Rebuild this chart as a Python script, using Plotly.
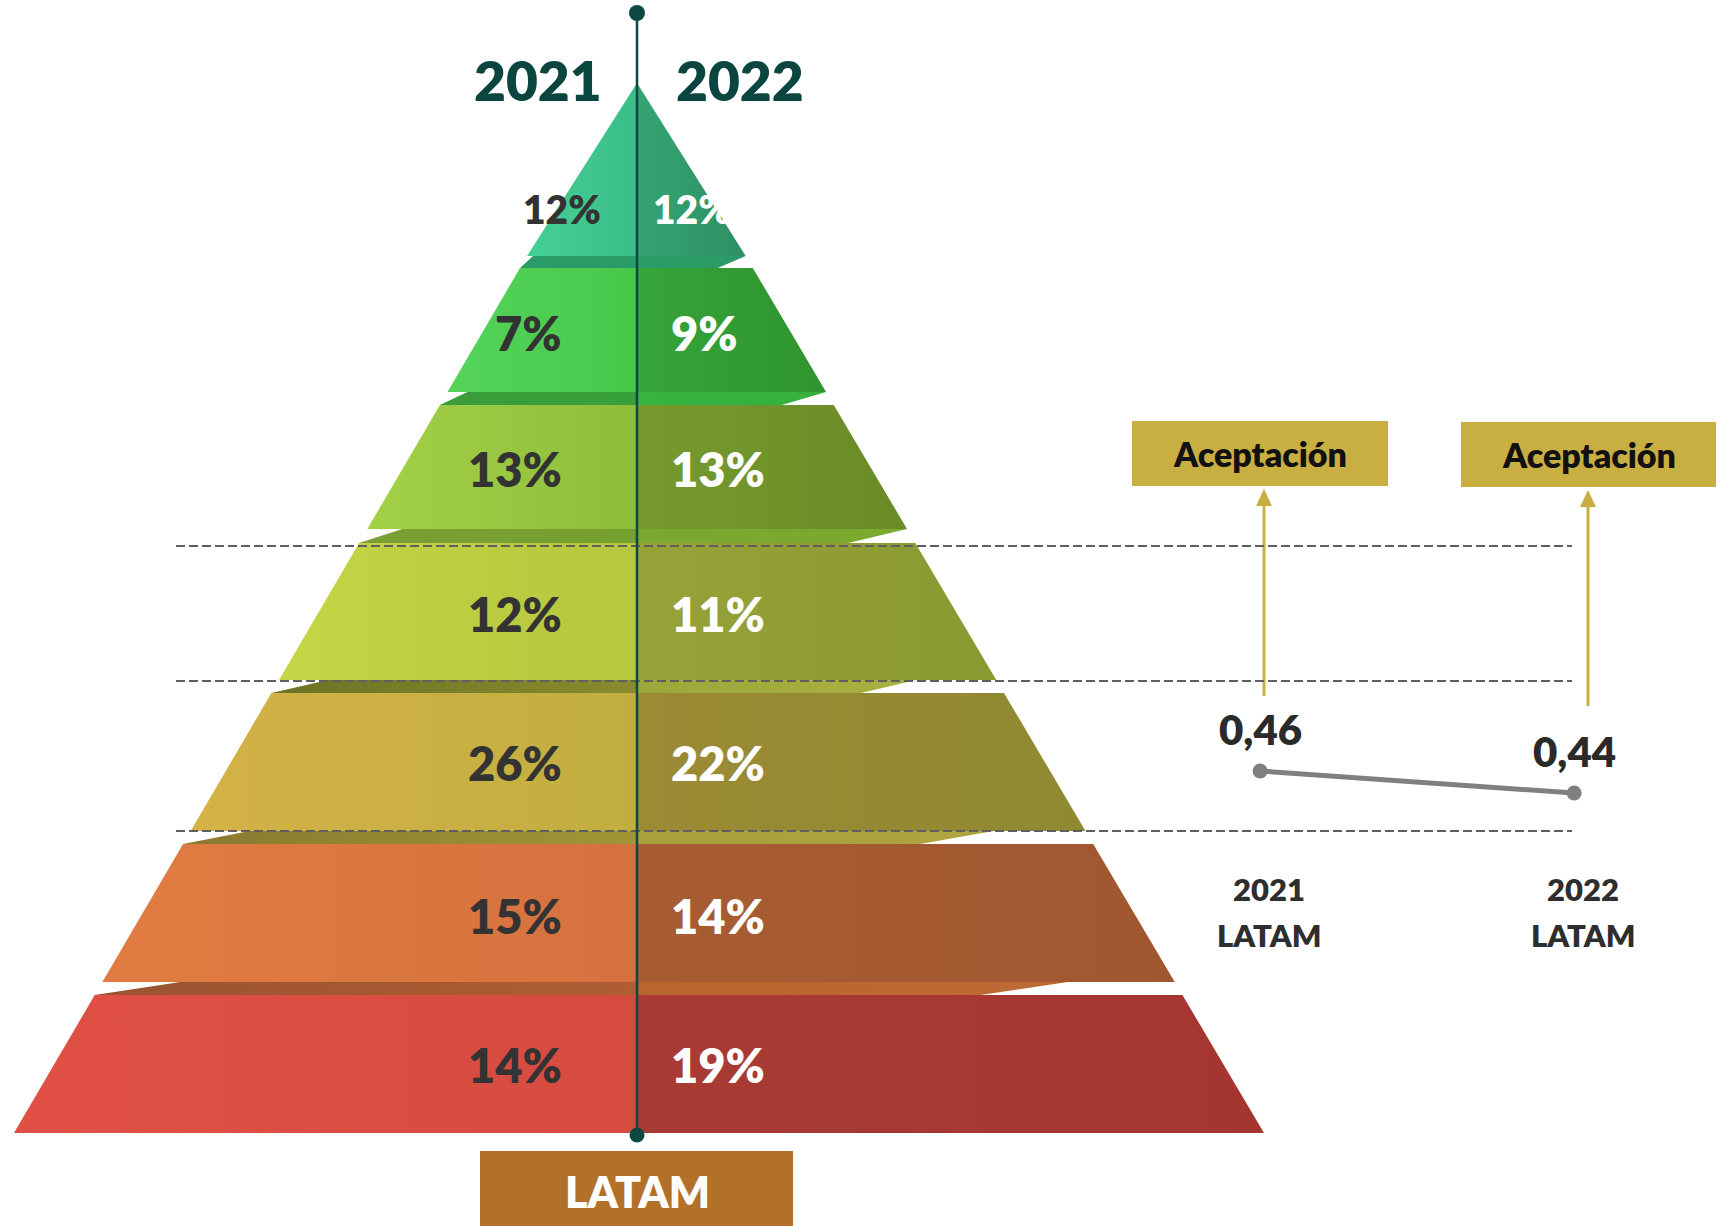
import plotly.graph_objects as go

# ---------------------------------------------------------------------------
# Data
# ---------------------------------------------------------------------------
# Share of respondents in each pyramid level, top level first
levels_2021 = [12, 7, 13, 12, 26, 15, 14]
levels_2022 = [12, 9, 13, 11, 22, 14, 19]
header_years = ["2021", "2022"]

# Acceptance index for LATAM
accept_categories = ["2021<br>LATAM", "2022<br>LATAM"]
accept_values = [0.46, 0.44]
accept_title = "Aceptación"
region_label = "LATAM"


def pct(v):
    return f"{v}%"


def dec_comma(v):
    return f"{v:.2f}".replace(".", ",")


# ---------------------------------------------------------------------------
# Canvas / geometry (pixel-like coordinates, y grows downwards)
# ---------------------------------------------------------------------------
W, H = 1728, 1226
CX = 637
FONT = "Lato"
HEAVY = 800

BAND_Y = [(83, 256), (268, 392), (405, 529), (543, 680),
          (693, 831), (844, 982), (995, 1133)]
BASE_Y, BASE_L, BASE_R = 1133, 14, 1264
SLOPE_L, SLOPE_R = 0.585, 0.591


def xl(y):
    return BASE_L + SLOPE_L * (BASE_Y - y)


def xr(y):
    return BASE_R - SLOPE_R * (BASE_Y - y)


# (left-half start, left-half end, right-half start, right-half end)
BAND_COLORS = [
    ("#44d096", "#3bbd87", "#34a472", "#2e9064"),
    ("#55d35a", "#47c84b", "#37a43a", "#2e942f"),
    ("#a2d146", "#8fbd3c", "#779a2e", "#698b28"),
    ("#c4d545", "#b6c63e", "#97a338", "#8a9832"),
    ("#d4b246", "#c2ae40", "#9c8a35", "#8f8a32"),
    ("#e17d42", "#d4713e", "#a85c32", "#a0572f"),
    ("#e05044", "#d64b40", "#a93b34", "#a43531"),
]
# darker under-face of each band
LEDGE_COLORS = [
    ("#2a9a66", "#2a9a66", "#2b9c68", "#2b9c68"),
    ("#3a9c3a", "#38a03a", "#3ab440", "#36b03c"),
    ("#7a9e32", "#76a030", "#7aa82e", "#7aaa2e"),
    ("#6b7425", "#8a8a2e", "#9da83a", "#a8b040"),
    ("#8a7a30", "#a09535", "#a8a03a", "#b0a440"),
    ("#9a5230", "#ae5e32", "#b8652f", "#bd6a35"),
]
LEDGE_IN_L = [6, 20, 35, 49, 59, 78]
LEDGE_IN_RT = [0, 0, 0, 80, 92, 107]
LEDGE_IN_RB = [35, 52, 67, 143, 173, 202]


def poly(xs, ys, c0, c1):
    return go.Scatter(
        x=xs + [xs[0]], y=ys + [ys[0]], mode="lines", fill="toself",
        line=dict(width=0, color="rgba(0,0,0,0)"),
        fillgradient=dict(type="horizontal", colorscale=[[0, c0], [1, c1]]),
        hoverinfo="skip", showlegend=False, xaxis="x", yaxis="y",
    )


fig = go.Figure()

# Pyramid bands, split into the 2021 (left) and 2022 (right) halves
for i, (top, bot) in enumerate(BAND_Y):
    la, lb, ra, rb = BAND_COLORS[i]
    if i == 0:
        fig.add_trace(poly([CX, xl(bot), CX], [top, bot, bot], la, lb))
        fig.add_trace(poly([CX, CX, xr(bot)], [top, bot, bot], ra, rb))
    else:
        fig.add_trace(poly([xl(top), CX, CX, xl(bot)], [top, top, bot, bot], la, lb))
        fig.add_trace(poly([CX, xr(top), xr(bot), CX], [top, top, bot, bot], ra, rb))

# Bevelled under-faces between bands
for i in range(len(BAND_Y) - 1):
    b = BAND_Y[i][1]
    t = BAND_Y[i + 1][0]
    la, lb, ra, rb = LEDGE_COLORS[i]
    fig.add_trace(poly([xl(b) + LEDGE_IN_L[i], CX, CX, xl(t)], [b, b, t, t], la, lb))
    fig.add_trace(poly([CX, xr(b) - LEDGE_IN_RT[i], xr(t) - LEDGE_IN_RB[i], CX],
                       [b, b, t, t], ra, rb))

# Acceptance trend line on its own axes
fig.add_trace(go.Scatter(
    x=accept_categories, y=accept_values, mode="lines+markers",
    line=dict(color="#808080", width=5),
    marker=dict(color="#808080", size=15),
    hoverinfo="skip", showlegend=False, xaxis="x2", yaxis="y2",
))

shapes = []
annotations = []

# Dashed guide lines
for y in (546, 681, 831):
    shapes.append(dict(type="line", xref="x", yref="y", x0=176, x1=1572, y0=y, y1=y,
                       line=dict(color="#5f5f5f", width=2.2, dash="9px,4px"), layer="above"))

# Central axis with end dots
AXIS_COL = "#0d4843"
shapes.append(dict(type="line", xref="x", yref="y", x0=CX, x1=CX, y0=13, y1=1135,
                   line=dict(color=AXIS_COL, width=2.5), layer="above"))
for yc, r in ((13, 8), (1135, 7.5)):
    shapes.append(dict(type="circle", xref="x", yref="y", x0=CX - r, x1=CX + r,
                       y0=yc - r, y1=yc + r, fillcolor=AXIS_COL,
                       line=dict(width=0), layer="above"))

# Year headers
for txt, x in zip(header_years, (538, 740)):
    annotations.append(dict(x=x, y=80, xref="x", yref="y", text=txt, showarrow=False,
                            xanchor="center", yanchor="middle",
                            font=dict(family=FONT, size=55, color="#0b4540", weight=HEAVY)))

# Percentage labels
LABEL_Y = [209, 333, 469, 614, 763, 916, 1065]
for i, (v21, v22) in enumerate(zip(levels_2021, levels_2022)):
    size = 39 if i == 0 else 47
    lx = 603 if i == 0 else 564
    rx = 651 if i == 0 else 669
    annotations.append(dict(x=lx, y=LABEL_Y[i], xref="x", yref="y", text=pct(v21),
                            showarrow=False, xanchor="right", yanchor="middle",
                            font=dict(family=FONT, size=size, color="#333333", weight=HEAVY)))
    annotations.append(dict(x=rx, y=LABEL_Y[i], xref="x", yref="y", text=pct(v22),
                            showarrow=False, xanchor="left", yanchor="middle",
                            font=dict(family=FONT, size=size, color="#ffffff", weight=HEAVY)))

# Bottom region box
shapes.append(dict(type="rect", xref="x", yref="y", x0=480, x1=793, y0=1151, y1=1232,
                   fillcolor="#b37028", line=dict(width=0), layer="below"))
annotations.append(dict(x=CX, y=1191, xref="x", yref="y", text=region_label,
                        showarrow=False, xanchor="center", yanchor="middle",
                        font=dict(family=FONT, size=43, color="#ffffff", weight=HEAVY)))

# "Aceptación" boxes with arrows pointing up from each point
GOLD = "#c9ae41"
for (bx0, bx1, by0, by1), ax, ay0 in (((1132, 1388, 421, 486), 1264, 696),
                                      ((1461, 1716, 422, 487), 1588, 706)):
    shapes.append(dict(type="rect", xref="x", yref="y", x0=bx0, x1=bx1, y0=by0, y1=by1,
                       fillcolor=GOLD, line=dict(width=0), layer="below"))
    annotations.append(dict(x=(bx0 + bx1) / 2, y=(by0 + by1) / 2, xref="x", yref="y",
                            text=accept_title, showarrow=False, xanchor="center",
                            yanchor="middle",
                            font=dict(family=FONT, size=34, color="#111111", weight=HEAVY)))
    tip = by1 + 3
    shapes.append(dict(type="line", xref="x", yref="y", x0=ax, x1=ax, y0=ay0, y1=tip + 12,
                       line=dict(color=GOLD, width=3), layer="below"))
    shapes.append(dict(type="path", xref="x", yref="y",
                       path=f"M {ax - 8},{tip + 17} L {ax},{tip} L {ax + 8},{tip + 17} Z",
                       fillcolor=GOLD, line=dict(width=0), layer="below"))

# Value labels above the points, category labels underneath
for cat, v in zip(accept_categories, accept_values):
    annotations.append(dict(x=cat, y=v, xref="x2", yref="y2", text=dec_comma(v),
                            showarrow=False, xanchor="center", yanchor="middle",
                            yshift=42,
                            font=dict(family=FONT, size=42, color="#2a2a2a", weight=HEAVY)))
    for line_txt, ly in zip(cat.split("<br>"), (889, 935)):
        annotations.append(dict(x=cat, y=ly, xref="x2", yref="y", text=line_txt,
                                showarrow=False, xanchor="center", yanchor="middle",
                                xshift=9,
                                font=dict(family=FONT, size=31, color="#2e2e2e",
                                          weight=HEAVY)))

fig.update_layout(
    width=W, height=H, autosize=False,
    margin=dict(l=0, r=0, t=0, b=0, pad=0),
    paper_bgcolor="#ffffff", plot_bgcolor="#ffffff",
    xaxis=dict(range=[0, W], visible=False, fixedrange=True),
    yaxis=dict(range=[H, 0], visible=False, fixedrange=True),
    xaxis2=dict(overlaying="x", anchor="y2", type="category",
                categoryarray=accept_categories, range=[-4.013, 1.490],
                visible=False, fixedrange=True),
    yaxis2=dict(overlaying="y", anchor="x2", range=[0.0464, 1.1609],
                visible=False, fixedrange=True),
    shapes=shapes,
    annotations=annotations,
    showlegend=False,
)

fig.write_html("out.html", config={"displayModeBar": False, "staticPlot": True})
